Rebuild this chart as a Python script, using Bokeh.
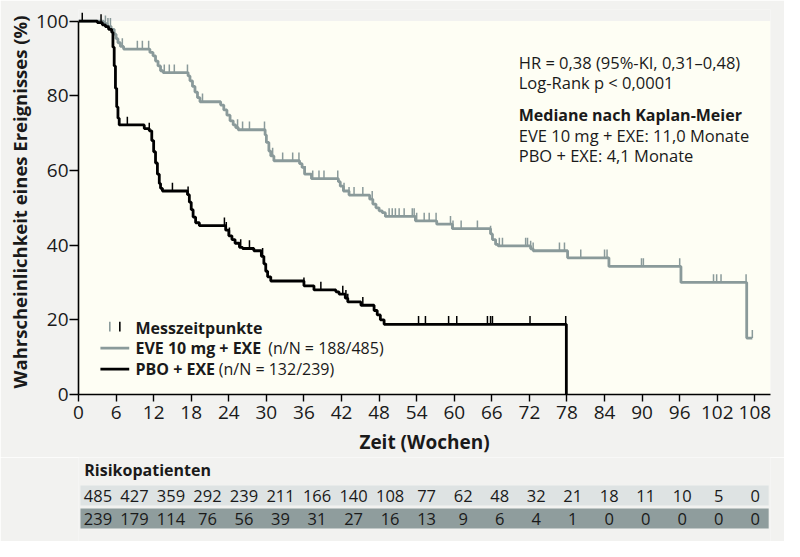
import numpy as np
from bokeh.plotting import figure
from bokeh.layouts import column
from bokeh.models import Range1d, BoxAnnotation, FixedTicker
from bokeh.core.properties import value
from bokeh.embed import file_html
from bokeh.resources import INLINE

# ---------------- data ----------------
eve_t = [0, 4.0, 4.6, 5.2, 5.7, 6.0, 6.3, 6.7, 7.2, 11.4, 11.9, 12.3, 12.7, 13.1, 13.5,
         17.5, 17.8, 18.2, 18.6, 19.0, 19.4, 22.7, 23.2, 23.7, 24.2, 24.7, 25.1, 25.5,
         29.8, 30.0, 30.4, 30.7, 31.2, 35.3, 35.7, 36.1, 37.2, 41.5, 41.8, 42.3, 43.2,
         46.5, 47.0, 47.5, 48.0, 48.5, 49.0, 53.8, 57.2, 59.7, 65.8, 66.1, 66.6, 67.0,
         72.2, 72.6, 78.1, 84.7, 96.2, 106.7, 107.6]
eve_s = [100, 99.3, 98.6, 97.8, 96.5, 95.3, 94.2, 93.2, 92.5, 91.6, 90.7, 89.3, 88.0, 86.7, 86.2,
         85.3, 84.0, 82.5, 81.0, 79.5, 78.4, 77.5, 76.2, 74.8, 73.3, 72.2, 71.5, 70.9,
         69.5, 67.5, 65.2, 63.9, 62.6, 61.8, 60.8, 59.0, 57.8, 57.0, 55.8, 54.5, 53.4,
         52.3, 51.0, 50.0, 49.2, 48.7, 47.7, 46.5, 45.6, 44.4, 43.0, 41.5, 40.2, 39.8,
         39.0, 38.5, 36.6, 34.3, 30.0, 15.1, 15.1]
eve_cens = [4.3, 4.7, 5.1, 7.0, 9.4, 10.2, 11.2, 13.7, 14.5, 15.3, 17.4, 19.8, 25.4, 26.2, 27.3,
            29.7, 31.0, 32.6, 34.2, 35.2, 36.2, 37.4, 38.4, 39.2, 41.4, 42.4, 43.2, 44.0, 45.4,
            46.9, 49.6, 50.1, 50.6, 51.2, 52.0, 53.3, 53.6, 54.0, 55.2, 56.0, 57.1, 59.4, 59.8,
            61.1, 63.7, 65.8, 67.2, 67.7, 71.4, 71.7, 72.2, 72.6, 76.8, 77.6, 80.2, 84.0, 84.4,
            89.9, 90.2, 96.0, 101.4, 101.9, 102.6, 106.6, 107.6]

pbo_t = [0, 3.0, 3.8, 4.3, 4.8, 5.3, 5.5, 5.7, 5.9, 6.1, 6.3, 6.5, 10.5, 11.3, 11.7, 12.0,
         12.3, 12.6, 12.9, 13.1, 13.4, 17.4, 17.7, 18.0, 18.3, 18.7, 19.3, 23.5, 24.0, 24.5,
         25.0, 25.7, 26.2, 28.0, 29.2, 29.6, 29.9, 30.2, 30.7, 36.0, 37.6, 41.1, 41.6, 42.6,
         43.0, 45.1, 47.2, 47.7, 48.2, 48.8, 77.9]
pbo_s = [100, 99.6, 99.0, 98.5, 97.8, 97.0, 93.0, 88.0, 82.0, 77.0, 74.0, 72.2, 71.2, 70.6, 68.0, 65.0,
         62.0, 59.0, 56.5, 55.2, 54.5, 53.5, 51.5, 49.5, 47.5, 46.0, 45.2, 44.0, 42.5, 41.5,
         40.5, 39.4, 39.1, 38.5, 37.0, 35.0, 33.0, 31.5, 30.4, 29.1, 28.0, 27.5, 26.9, 25.8,
         24.8, 23.9, 22.5, 21.3, 20.0, 18.8, 0.0]
pbo_cens = [0.6, 3.6, 7.8, 11.3, 15.0, 17.5, 23.3, 23.6, 24.1, 25.9, 27.3, 29.4, 36.0, 38.7,
            42.2, 42.7, 43.0, 45.4, 54.3, 55.4, 59.1, 60.4, 65.3, 65.8, 66.1, 72.1, 77.8]

risk_weeks = list(range(0, 109, 6))
eve_risk = [485, 427, 359, 292, 239, 211, 166, 140, 108, 77, 62, 48, 32, 21, 18, 11, 10, 5, 0]
pbo_risk = [239, 179, 114, 76, 56, 39, 31, 27, 16, 13, 9, 6, 4, 1, 0, 0, 0, 0, 0]

y_ticks = [0, 20, 40, 60, 80, 100]

# ---------------- styles ----------------
FONT = "Open Sans"
BG = "#F2F2F0"
CREAM = "#FEFEF4"
GREY = "#8A9A9A"
BLACK = "#000000"
TXT = "#1A1A1A"
ROW_LIGHT = "#DEE3E3"
ROW_DARK = "#8F9D9D"
TICK_H = 2.2


def surv_at(times, surv, t):
    i = np.searchsorted(np.array(times), t, side="right") - 1
    return surv[max(i, 0)]


p = figure(width=784, height=457, x_range=Range1d(0, 110.5), y_range=Range1d(0, 103.1),
           output_backend="svg", toolbar_location=None,
           min_border_left=78, min_border_right=14, min_border_top=9, min_border_bottom=63)
p.background_fill_color = BG
p.border_fill_color = BG
p.outline_line_color = None
p.grid.visible = False
p.add_layout(BoxAnnotation(top=100, fill_color=CREAM, fill_alpha=1, line_color=None, level="underlay"))

# curves
p.step(x=eve_t, y=eve_s, mode="after", line_color=GREY, line_width=2.8)
ec_y = [surv_at(eve_t, eve_s, t) for t in eve_cens]
p.segment(x0=eve_cens, y0=ec_y, x1=eve_cens, y1=[v + TICK_H for v in ec_y], line_color=GREY, line_width=1.5)

p.step(x=pbo_t, y=pbo_s, mode="after", line_color=BLACK, line_width=2.8)
pc_y = [surv_at(pbo_t, pbo_s, t) for t in pbo_cens]
p.segment(x0=pbo_cens, y0=pc_y, x1=pbo_cens, y1=[v + TICK_H for v in pc_y], line_color=BLACK, line_width=1.5)

# axes
p.xaxis.ticker = FixedTicker(ticks=risk_weeks)
p.yaxis.ticker = FixedTicker(ticks=y_ticks)
p.yaxis.bounds = (0, 100)
for ax in (p.xaxis[0], p.yaxis[0]):
    ax.axis_line_width = 1.6
    ax.axis_line_color = BLACK
    ax.major_tick_line_width = 1.4
    ax.major_tick_line_color = BLACK
    ax.major_tick_in = 0
    ax.minor_tick_line_color = None
    ax.major_label_text_font = FONT
    ax.major_label_text_font_size = "19px"
    ax.major_label_text_color = TXT
    ax.axis_label_text_font = FONT
    ax.axis_label_text_font_style = "bold"
    ax.axis_label_text_color = TXT
p.xaxis.major_tick_out = 7
p.xaxis.major_label_standoff = 4
p.xaxis.axis_label = "Zeit (Wochen)"
p.xaxis.axis_label_text_font_size = "19px"
p.xaxis.axis_label_standoff = 7
p.yaxis.major_tick_out = 9
p.yaxis.major_label_standoff = 1
p.yaxis.axis_label = "Wahrscheinlichkeit eines Ereignisses (%)"
p.yaxis.axis_label_text_font_size = "18.5px"
p.yaxis.axis_label_standoff = 1

# annotation text (top right)
ann_x = 70.3
p.text(x=[ann_x, ann_x], y=[88.9, 83.6],
       text=["HR = 0,38 (95%-KI, 0,31–0,48)", "Log-Rank p < 0,0001"],
       text_font=value(FONT), text_font_size="16.5px", text_color=TXT,
       text_align="left", text_baseline="middle")
p.text(x=[ann_x], y=[74.8], text=["Mediane nach Kaplan-Meier"],
       text_font=value(FONT), text_font_size="16px", text_font_style="bold", text_color=TXT,
       text_align="left", text_baseline="middle")
p.text(x=[ann_x, ann_x], y=[69.4, 64.1],
       text=["EVE 10 mg + EXE: 11,0 Monate", "PBO + EXE: 4,1 Monate"],
       text_font=value(FONT), text_font_size="16.5px", text_color=TXT,
       text_align="left", text_baseline="middle")

# legend (drawn manually)
p.segment(x0=[5.0, 6.6], y0=[16.9, 16.9], x1=[5.0, 6.6], y1=[19.5, 19.5],
          line_color=[GREY, BLACK], line_width=1.6)
p.segment(x0=[3.5, 3.5], y0=[12.4, 6.8], x1=[8.1, 8.1], y1=[12.4, 6.8],
          line_color=[GREY, BLACK], line_width=2.8)
p.text(x=[9.1, 9.1, 9.1], y=[17.9, 12.4, 6.8],
       text=["Messzeitpunkte", "EVE 10 mg + EXE", "PBO + EXE"],
       text_font=value(FONT), text_font_size="16px", text_font_style="bold", text_color=TXT,
       text_align="left", text_baseline="middle")
p.text(x=[30.3, 22.4], y=[12.4, 6.8],
       text=["(n/N = 188/485)", "(n/N = 132/239)"],
       text_font=value(FONT), text_font_size="16px", text_color=TXT,
       text_align="left", text_baseline="middle")

# ---------------- risk table ----------------
t = figure(width=784, height=84, x_range=Range1d(-3.194, 110.5), y_range=Range1d(84, 0),
           output_backend="svg", toolbar_location=None,
           min_border_left=58, min_border_right=14, min_border_top=0, min_border_bottom=0)
t.background_fill_color = BG
t.border_fill_color = BG
t.outline_line_color = None
t.grid.visible = False
t.axis.visible = False
t.quad(left=[-2.87, -2.87], right=[110.2, 110.2], top=[28, 51], bottom=[48, 71],
       fill_color=[ROW_LIGHT, ROW_DARK], line_color=None)
t.text(x=[-2.24], y=[12], text=["Risikopatienten"], text_font=value(FONT),
       text_font_size="16px", text_font_style="bold", text_color=TXT,
       text_align="left", text_baseline="middle")
t.text(x=risk_weeks, y=[38] * len(risk_weeks), text=[str(v) for v in eve_risk],
       text_font=value(FONT), text_font_size="16.5px", text_color=TXT,
       text_align="center", text_baseline="middle")
t.text(x=risk_weeks, y=[61] * len(risk_weeks), text=[str(v) for v in pbo_risk],
       text_font=value(FONT), text_font_size="16.5px", text_color=TXT,
       text_align="center", text_baseline="middle")

layout = column(p, t, spacing=0)
open("out.html", "w").write(file_html(layout, INLINE))
